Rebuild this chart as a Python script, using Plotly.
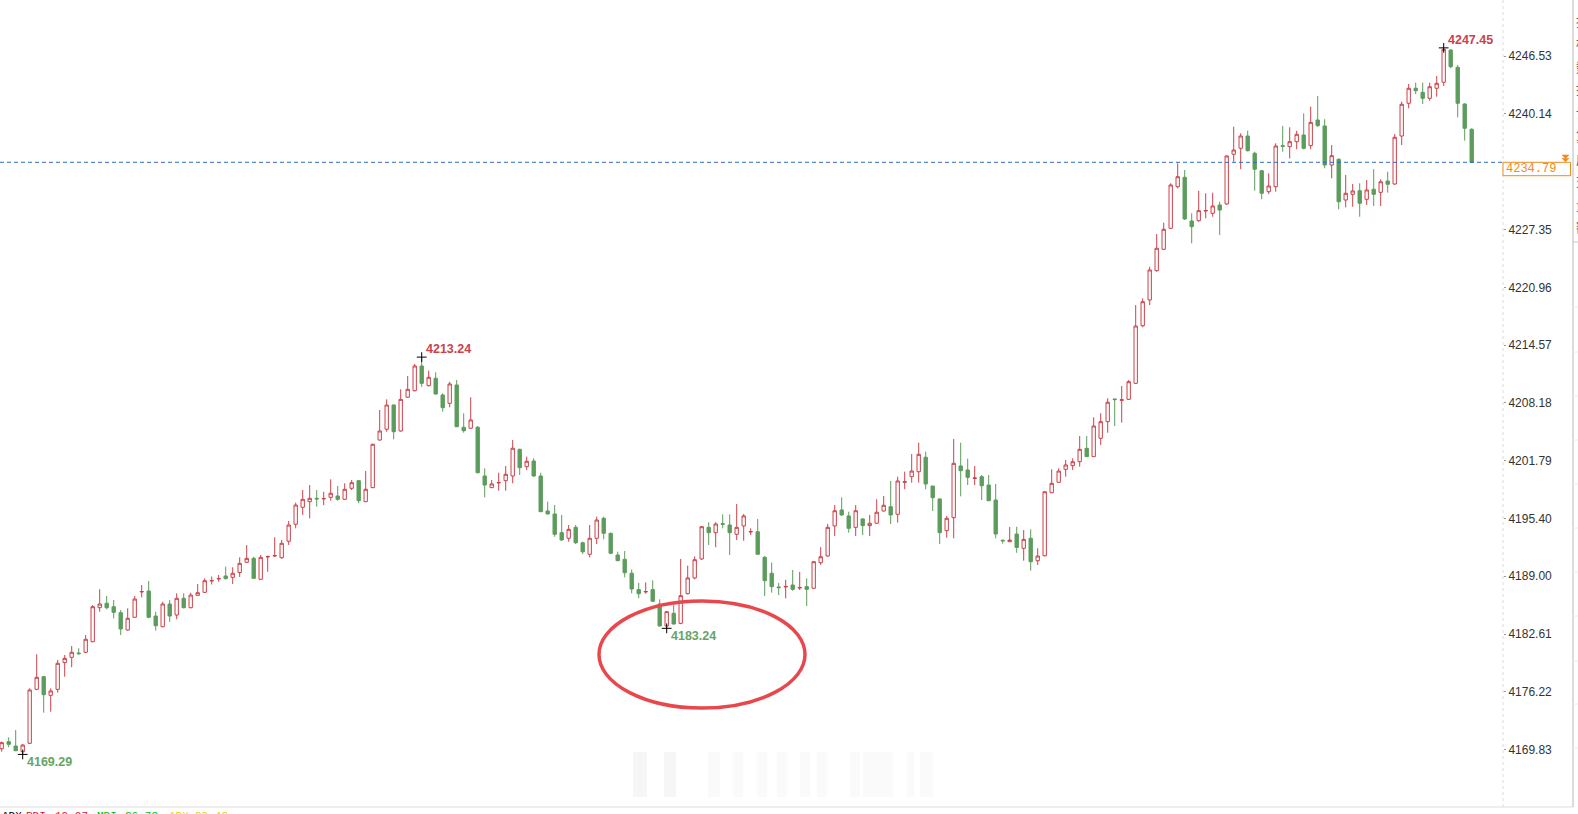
import plotly.graph_objects as go

# ---------------- data ----------------
opens = [4169.92, 4170.70, 4170.22, 4169.59, 4170.52, 4176.49, 4177.89, 4175.83, 4176.49, 4179.44,
         4180.03, 4180.51, 4180.59, 4181.76, 4185.52, 4186.01, 4185.63, 4184.97, 4183.05, 4184.46,
         4187.26, 4187.37, 4184.60, 4183.42, 4185.93, 4184.71, 4186.56, 4185.52, 4186.89, 4187.22,
         4188.47, 4188.70, 4189.03, 4188.88, 4189.41, 4190.54, 4190.98, 4188.66, 4191.13, 4191.24,
         4191.05, 4192.87, 4194.75, 4196.63, 4197.25, 4197.62, 4197.55, 4197.73, 4197.88, 4197.51,
         4198.73, 4199.57, 4197.25, 4198.80, 4204.07, 4205.26, 4207.94, 4205.07, 4208.80, 4209.52,
         4212.26, 4210.08, 4210.90, 4209.05, 4208.13, 4210.16, 4205.48, 4205.37, 4205.48, 4200.09,
         4198.80, 4199.32, 4199.57, 4200.09, 4203.04, 4201.12, 4201.75, 4200.09, 4196.22, 4195.89,
         4193.82, 4193.20, 4194.41, 4192.71, 4191.43, 4193.20, 4195.41, 4193.75, 4191.35, 4190.87,
         4189.33, 4187.52, 4187.26, 4187.52, 4185.93, 4183.50, 4184.90, 4183.79, 4187.07, 4188.81,
         4190.91, 4194.41, 4193.82, 4194.82, 4194.67, 4193.64, 4194.56, 4193.89, 4193.93, 4191.09,
         4189.33, 4187.81, 4187.81, 4188.03, 4187.70, 4187.85, 4187.67, 4190.50, 4191.24, 4194.56,
         4196.33, 4195.67, 4194.41, 4195.34, 4194.60, 4194.86, 4196.22, 4196.69, 4195.85, 4199.39,
         4200.01, 4200.56, 4202.16, 4198.98, 4197.55, 4194.04, 4195.48, 4201.20, 4200.75, 4199.81,
         4200.01, 4199.09, 4197.43, 4192.99, 4192.82, 4193.67, 4192.09, 4193.20, 4190.72, 4191.27,
         4198.24, 4199.39, 4200.83, 4201.23, 4201.67, 4203.15, 4202.23, 4204.26, 4206.10, 4208.61,
         4208.46, 4208.57, 4210.34, 4216.71, 4219.56, 4222.80, 4225.17, 4227.49, 4232.09, 4233.13,
         4228.30, 4228.33, 4229.40, 4229.15, 4230.07, 4230.18, 4235.68, 4236.34, 4237.70, 4235.79,
         4233.86, 4231.54, 4232.09, 4236.63, 4236.52, 4237.07, 4237.81, 4236.63, 4239.47, 4238.81,
         4234.49, 4235.12, 4230.62, 4231.25, 4231.65, 4230.70, 4231.81, 4231.47, 4232.72, 4232.39,
         4237.70, 4241.32, 4242.98, 4242.53, 4241.87, 4242.98, 4243.64, 4247.21, 4245.30, 4241.24,
         4238.44]
highs = [4170.70, 4171.18, 4171.99, 4170.44, 4176.60, 4180.37, 4177.97, 4176.60, 4179.74, 4180.29,
         4181.28, 4181.03, 4182.50, 4185.82, 4187.56, 4186.81, 4186.37, 4185.27, 4185.45, 4186.81,
         4188.03, 4188.47, 4185.08, 4186.18, 4186.37, 4187.11, 4187.11, 4187.18, 4188.14, 4188.77,
         4188.97, 4189.14, 4190.06, 4189.99, 4191.09, 4192.45, 4191.16, 4191.35, 4191.29, 4193.31,
         4193.01, 4195.11, 4197.14, 4198.54, 4199.09, 4198.54, 4198.35, 4199.72, 4198.98, 4199.28,
         4199.65, 4199.65, 4200.64, 4203.65, 4207.39, 4208.57, 4208.00, 4209.68, 4211.15, 4212.48,
         4213.24, 4211.74, 4211.56, 4209.24, 4210.52, 4210.71, 4207.03, 4208.80, 4205.62, 4200.94,
         4199.65, 4200.45, 4201.20, 4204.07, 4203.10, 4202.23, 4202.05, 4200.45, 4197.25, 4196.88,
         4195.78, 4194.67, 4194.67, 4192.82, 4194.67, 4195.59, 4195.59, 4193.82, 4191.72, 4191.79,
         4189.76, 4188.26, 4188.33, 4188.55, 4186.45, 4185.16, 4185.82, 4190.91, 4190.17, 4191.20,
         4194.55, 4194.97, 4194.97, 4195.85, 4195.85, 4197.00, 4195.89, 4194.30, 4195.33, 4191.24,
         4190.52, 4188.26, 4188.62, 4189.70, 4189.48, 4188.77, 4190.65, 4192.21, 4194.78, 4196.88,
         4197.73, 4196.14, 4196.88, 4195.41, 4195.78, 4197.51, 4197.88, 4199.54, 4200.01, 4200.57,
         4202.52, 4203.77, 4202.78, 4199.00, 4197.60, 4195.67, 4204.18, 4203.77, 4202.01, 4201.20,
         4200.20, 4200.20, 4199.21, 4193.04, 4194.45, 4194.48, 4194.11, 4194.19, 4192.09, 4198.40,
         4200.83, 4200.94, 4201.86, 4202.05, 4204.51, 4204.51, 4206.58, 4207.03, 4208.69, 4208.65,
         4210.05, 4210.71, 4219.00, 4219.74, 4223.24, 4226.86, 4228.11, 4232.47, 4234.68, 4233.94,
         4229.15, 4231.65, 4231.36, 4231.43, 4230.43, 4235.55, 4238.73, 4238.00, 4238.29, 4235.96,
         4233.94, 4233.57, 4236.89, 4238.81, 4238.66, 4238.29, 4240.21, 4240.94, 4242.12, 4239.55,
         4236.70, 4235.23, 4233.39, 4232.39, 4232.47, 4232.83, 4234.02, 4232.91, 4233.75, 4237.92,
         4241.49, 4243.45, 4243.60, 4243.60, 4243.60, 4244.34, 4247.45, 4247.29, 4245.55, 4241.32,
         4238.55]
lows = [4169.59, 4170.08, 4169.67, 4169.29, 4170.45, 4176.40, 4173.91, 4174.02, 4176.12, 4177.89,
        4178.93, 4180.29, 4180.50, 4181.70, 4185.08, 4185.34, 4184.35, 4182.50, 4182.98, 4184.40,
        4186.67, 4184.35, 4182.98, 4183.35, 4183.97, 4184.24, 4185.45, 4185.45, 4186.85, 4187.15,
        4188.09, 4188.40, 4188.66, 4188.14, 4188.92, 4190.50, 4188.70, 4188.60, 4189.50, 4191.13,
        4190.94, 4192.46, 4194.30, 4195.78, 4195.41, 4196.69, 4196.88, 4197.36, 4197.36, 4197.45,
        4198.54, 4197.07, 4197.20, 4198.75, 4204.00, 4204.99, 4204.15, 4205.00, 4208.75, 4209.45,
        4209.96, 4210.00, 4209.10, 4207.20, 4207.69, 4205.50, 4204.88, 4205.30, 4200.40, 4197.73,
        4198.75, 4198.46, 4198.46, 4199.28, 4200.20, 4200.75, 4200.01, 4196.10, 4195.85, 4193.37,
        4192.95, 4192.82, 4192.56, 4191.46, 4191.09, 4192.56, 4193.09, 4191.46, 4190.68, 4188.88,
        4187.11, 4186.56, 4187.07, 4186.20, 4183.45, 4183.24, 4183.65, 4183.70, 4187.00, 4188.66,
        4190.80, 4192.46, 4192.21, 4194.30, 4191.35, 4193.01, 4192.93, 4193.56, 4191.40, 4186.81,
        4187.18, 4186.92, 4186.56, 4187.40, 4187.48, 4185.71, 4187.60, 4190.25, 4191.16, 4193.45,
        4195.67, 4193.82, 4193.45, 4193.56, 4193.45, 4194.80, 4196.15, 4194.78, 4194.93, 4198.62,
        4199.35, 4199.35, 4198.62, 4196.22, 4192.56, 4193.27, 4193.20, 4197.84, 4199.09, 4199.09,
        4197.43, 4197.30, 4193.20, 4192.60, 4192.78, 4191.60, 4190.72, 4189.61, 4190.25, 4191.20,
        4198.20, 4199.35, 4200.01, 4200.75, 4201.12, 4202.20, 4202.20, 4203.52, 4204.88, 4205.62,
        4205.99, 4208.50, 4210.30, 4216.54, 4219.00, 4222.69, 4225.10, 4227.40, 4231.91, 4228.41,
        4225.83, 4228.22, 4228.59, 4228.77, 4226.75, 4230.10, 4234.86, 4234.02, 4236.00, 4231.65,
        4230.70, 4231.28, 4231.54, 4235.96, 4235.23, 4236.23, 4236.23, 4236.23, 4238.73, 4234.13,
        4233.02, 4229.59, 4229.81, 4229.88, 4228.77, 4230.07, 4229.96, 4229.96, 4231.43, 4232.30,
        4236.70, 4240.76, 4242.34, 4241.24, 4241.60, 4242.05, 4243.23, 4245.19, 4239.77, 4237.18,
        4234.79]
closes = [4170.59, 4170.41, 4169.70, 4170.33, 4176.42, 4177.82, 4175.90, 4176.31, 4179.37, 4179.92,
          4180.59, 4180.44, 4182.03, 4185.63, 4185.93, 4185.52, 4185.01, 4183.17, 4184.35, 4186.48,
          4187.31, 4184.46, 4183.53, 4185.93, 4184.60, 4186.56, 4185.52, 4186.92, 4187.18, 4188.51,
          4188.53, 4188.75, 4188.73, 4189.33, 4190.43, 4190.98, 4188.77, 4191.09, 4191.18, 4191.29,
          4192.65, 4194.67, 4196.88, 4197.51, 4197.62, 4197.55, 4197.60, 4198.18, 4197.51, 4198.62,
          4199.35, 4197.36, 4198.62, 4203.60, 4205.07, 4207.94, 4204.99, 4208.57, 4209.68, 4212.26,
          4210.34, 4211.01, 4209.16, 4207.65, 4210.27, 4205.54, 4205.10, 4206.29, 4200.45, 4199.09,
          4199.21, 4199.37, 4200.28, 4203.16, 4201.01, 4201.72, 4200.09, 4196.14, 4195.89, 4193.64,
          4193.01, 4194.19, 4192.71, 4191.71, 4193.20, 4195.22, 4193.75, 4191.54, 4190.72, 4189.39,
          4187.59, 4187.07, 4187.31, 4186.23, 4183.50, 4185.08, 4183.72, 4186.85, 4188.81, 4190.83,
          4194.48, 4193.82, 4194.78, 4194.75, 4193.82, 4194.41, 4195.67, 4193.95, 4191.43, 4188.51,
          4187.85, 4187.74, 4187.87, 4187.55, 4187.76, 4187.55, 4190.61, 4191.16, 4194.41, 4196.25,
          4195.78, 4194.30, 4196.25, 4194.60, 4194.86, 4196.08, 4196.85, 4195.78, 4199.54, 4199.45,
          4200.64, 4202.49, 4199.21, 4197.69, 4193.82, 4195.41, 4201.49, 4200.68, 4199.94, 4199.87,
          4199.01, 4197.36, 4193.67, 4192.92, 4193.00, 4192.19, 4193.08, 4190.61, 4191.24, 4198.35,
          4199.28, 4200.64, 4201.31, 4201.67, 4203.04, 4202.23, 4205.62, 4206.10, 4208.25, 4208.54,
          4208.52, 4210.52, 4216.68, 4219.37, 4222.88, 4225.28, 4227.38, 4232.28, 4233.20, 4228.52,
          4227.67, 4229.44, 4229.46, 4229.96, 4229.51, 4235.49, 4236.15, 4237.70, 4236.07, 4234.02,
          4231.36, 4232.17, 4236.59, 4236.56, 4237.07, 4237.89, 4236.34, 4239.21, 4238.84, 4234.49,
          4235.52, 4230.43, 4231.36, 4231.62, 4230.26, 4231.73, 4231.25, 4232.64, 4232.36, 4237.56,
          4241.21, 4242.98, 4242.71, 4241.87, 4243.15, 4243.53, 4247.29, 4245.37, 4241.32, 4238.55,
          4234.79]
bars = list(range(len(opens)))

y_tick_vals = [4169.83, 4176.22, 4182.61, 4189.00, 4195.40, 4201.79, 4208.18,
               4214.57, 4220.96, 4227.35, 4240.14, 4246.53]
top_tick_label = "4252.92"
marked_points = [(3, "low"), (60, "high"), (95, "low"), (206, "high")]
indicator_texts = [("ADX", "#000000", 0), ("PDI", "#d0202c", 24), ("19.07", "#d0202c", 53),
                   ("MDI", "#00c000", 95), ("26.78", "#00c000", 123),
                   ("ADX", "#e0d800", 167), ("29.48", "#e0d800", 193)]
side_chars = ["指", "标", "数", "据", "计", "算", "成", "交", "量", "额"]

# ---------------- layout constants (pixels) ----------------
W, H = 1578, 814
PLOT_R = 1503          # right edge of plotting area
PLOT_B = 807           # bottom edge of plotting area
BAR_STEP = 7.0         # px between candles
FIRST_X = 1.7          # px of first candle
Y_TOP = 4252.744       # price at top edge
PX_PER_UNIT = 9.04

RED = "#c9424b"
GREEN = "#5c9c5c"
LABEL_GREEN = "#66a466"
ORANGE = "#ee8a1c"


def px_x(x):
    return x / PLOT_R


def px_y(y):
    return (PLOT_B - y) / PLOT_B


y_range = [Y_TOP - PLOT_B / PX_PER_UNIT, Y_TOP]
x_range = [-FIRST_X / BAR_STEP, (PLOT_R - FIRST_X) / BAR_STEP]

fig = go.Figure()
fig.add_trace(go.Candlestick(
    x=bars, open=opens, high=highs, low=lows, close=closes,
    increasing=dict(line=dict(color=RED, width=1), fillcolor="white"),
    decreasing=dict(line=dict(color=GREEN, width=1), fillcolor=GREEN),
    whiskerwidth=0, hoverinfo="skip", showlegend=False,
))

annotations = []
for idx, kind in marked_points:
    val = highs[idx] if kind == "high" else lows[idx]
    fig.add_trace(go.Scatter(
        x=[idx], y=[val], mode="markers", hoverinfo="skip", showlegend=False,
        marker=dict(symbol="cross-thin", size=7, line=dict(color="black", width=1)),
    ))
    annotations.append(dict(
        x=idx, y=val, xref="x", yref="y", text=f"<b>{val:.2f}</b>", showarrow=False,
        xanchor="left", yanchor="middle", xshift=2, yshift=8 if kind == "high" else -8,
        font=dict(family="Liberation Sans, Arial", size=12.5,
                  color=RED if kind == "high" else LABEL_GREEN),
    ))

last_close = closes[-1]
close_px = (Y_TOP - last_close) * PX_PER_UNIT

shapes = [
    # last price dashed line
    dict(type="line", xref="paper", yref="y", x0=0, x1=1, y0=last_close, y1=last_close,
         line=dict(color="#2a6cc8", width=1, dash="4px,3px")),
    # dotted price axis line
    dict(type="line", xref="paper", yref="paper", x0=1, x1=1, y0=0, y1=1,
         line=dict(color="#dcdcdc", width=1, dash="dot")),
    # bottom border
    dict(type="line", xref="paper", yref="paper", x0=0, x1=px_x(1573), y0=0, y1=0,
         line=dict(color="#dddddd", width=1)),
    # right side panel border
    dict(type="line", xref="paper", yref="paper", x0=px_x(1573), x1=px_x(1573), y0=0,
         y1=px_y(0), line=dict(color="#b8b8b8", width=1)),
    dict(type="line", xref="paper", yref="paper", x0=px_x(1573), x1=px_x(1580), y0=px_y(242),
         y1=px_y(242), line=dict(color="#c8c8c8", width=1)),
    # price box
    dict(type="rect", xref="paper", yref="paper", x0=px_x(1503), x1=px_x(1570.5),
         y0=px_y(close_px), y1=px_y(close_px + 13.4),
         line=dict(color=ORANGE, width=1), fillcolor="white"),
    # small orange marker
    dict(type="path", xref="paper", yref="paper",
         path=(f"M {px_x(1562)},{px_y(155)} L {px_x(1569)},{px_y(155)} L {px_x(1565.5)},{px_y(158.5)} Z "
               f"M {px_x(1562)},{px_y(158.3)} L {px_x(1569)},{px_y(158.3)} L {px_x(1565.5)},{px_y(162)} Z"),
         line=dict(color=ORANGE, width=0.5), fillcolor=ORANGE),
    # hand-drawn red ellipse
    dict(type="circle", xref="x", yref="y",
         x0=(599 - FIRST_X) / BAR_STEP, x1=(805 - FIRST_X) / BAR_STEP,
         y0=Y_TOP - 708 / PX_PER_UNIT, y1=Y_TOP - 601 / PX_PER_UNIT,
         line=dict(color="#e8474c", width=3.5)),
]

for yy in [307, 352, 396, 440, 484, 528, 572, 616, 661, 704, 748]:
    shapes.append(dict(type="line", xref="paper", yref="paper", x0=px_x(1573), x1=px_x(1580),
                       y0=px_y(yy), y1=px_y(yy), line=dict(color="#ececec", width=1)))

# faint blurred watermark at the bottom
for x0, x1, op in [(633, 647, 0.035), (664, 676, 0.035), (708, 720, 0.02),
                   (733, 743, 0.02), (757, 767, 0.02), (777, 787, 0.02), (800, 810, 0.02),
                   (817, 827, 0.02), (850, 860, 0.02), (863, 893, 0.018), (907, 914, 0.02),
                   (920, 933, 0.018)]:
    shapes.append(dict(type="rect", xref="paper", yref="paper", x0=px_x(x0), x1=px_x(x1),
                       y0=px_y(797), y1=px_y(752), line=dict(width=0),
                       fillcolor=f"rgba(0,0,0,{op})", layer="below"))

annotations.append(dict(
    x=px_x(1504), y=px_y(close_px + 6.9), xref="paper", yref="paper", text=f"{last_close:.2f}",
    showarrow=False, xanchor="left", yanchor="middle",
    font=dict(family="Liberation Mono, DejaVu Sans Mono, monospace", size=12, color=ORANGE),
))
annotations.append(dict(
    x=px_x(1504), y=px_y(-3.5), xref="paper", yref="paper", text=top_tick_label,
    showarrow=False, xanchor="left", yanchor="middle",
    font=dict(family="Liberation Sans, Arial", size=12, color="#333333"),
))
for txt, col, xl in indicator_texts:
    annotations.append(dict(
        x=px_x(xl), y=px_y(815.5), xref="paper", yref="paper", text=txt, showarrow=False,
        xanchor="left", yanchor="middle",
        font=dict(family="Liberation Mono, DejaVu Sans Mono, monospace", size=11, color=col),
    ))
for k, ch in enumerate(side_chars):
    annotations.append(dict(
        x=px_x(1574), y=px_y(20 + 23 * k), xref="paper", yref="paper", text=ch, showarrow=False,
        xanchor="left", yanchor="middle",
        font=dict(family="Noto Sans CJK SC", size=13, color="#555555"),
    ))

fig.update_layout(
    width=W, height=H,
    margin=dict(l=0, r=W - PLOT_R, t=0, b=H - PLOT_B, pad=0),
    paper_bgcolor="white", plot_bgcolor="white",
    showlegend=False, boxgap=0.32,
    xaxis=dict(range=x_range, showgrid=False, zeroline=False, showticklabels=False,
               showline=False, ticks="", rangeslider=dict(visible=False), fixedrange=True),
    yaxis=dict(range=y_range, side="right", showgrid=False, zeroline=False, showline=False,
               tickmode="array", tickvals=y_tick_vals,
               ticktext=[f"{v:.2f}" for v in y_tick_vals],
               ticks="outside", ticklen=2, tickcolor="#999999", tickwidth=1,
               tickfont=dict(family="Liberation Sans, Arial", size=12, color="#333333"),
               fixedrange=True),
    shapes=shapes, annotations=annotations,
)

fig.write_html("out.html", config={"displayModeBar": False},
               post_script="document.body.style.margin='0';document.body.style.overflow='hidden';")
